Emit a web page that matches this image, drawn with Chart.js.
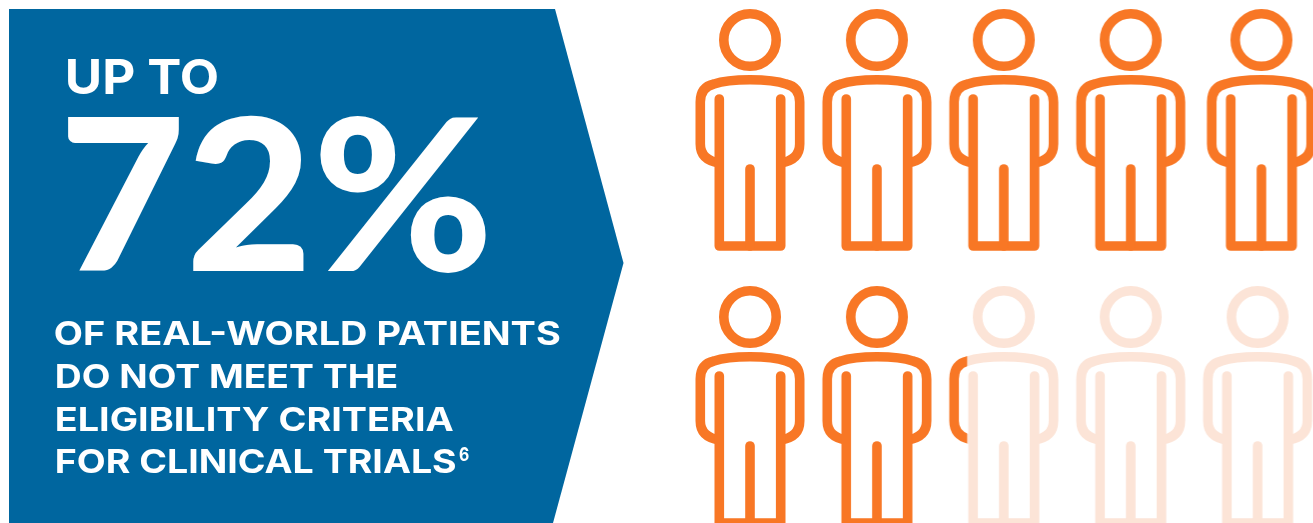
<!DOCTYPE html>
<html>
<head>
<meta charset="utf-8">
<title>Eligibility of real-world patients for clinical trials</title>
<script src="https://cdn.jsdelivr.net/npm/chart.js@4"></script>
<style>
  html, body { margin: 0; padding: 0; background: #fff; overflow: hidden; }
  #wrap { position: relative; width: 1313px; height: 523px; }
</style>
</head>
<body>
<div id="wrap"><canvas id="chart"></canvas></div>
<script>
// Ten patient figures; each share is how much of that figure is coloured in.
const figureCols  = [0, 1, 2, 3, 4.03, 0, 1, 2, 3, 4];
const figureRows  = [0, 0, 0, 0, 0, 1, 1, 1, 1, 1];
const figureShare = [1, 1, 1, 1, 1, 1, 1, 0.2, 0, 0];

const leadLabel = 'UP TO';
const bigLabel = '72%';
const bodyLines = [
  'OF REAL-WORLD PATIENTS',
  'DO NOT MEET THE',
  'ELIGIBILITY CRITERIA',
  'FOR CLINICAL TRIALS'
];
const footnoteMark = '6';

const ORANGE = '#F87725';
const PALE = '#FCE4D7';
const BLUE = '#00669F';
const WHITE = '#FFFFFF';

// Outline of one person, drawn around the horizontal centre of its cell.
function tracePerson(ctx, cx) {
  ctx.lineWidth = 9.6;
  ctx.lineCap = 'round';
  ctx.lineJoin = 'round';
  ctx.beginPath();
  ctx.arc(cx, 35, 26.2, 0, Math.PI * 2);
  ctx.stroke();

  // shoulders, arms and the outside of the legs
  ctx.beginPath();
  ctx.moveTo(cx - 30.7, 158);
  ctx.bezierCurveTo(cx - 43, 156, cx - 49.7, 150, cx - 49.7, 139);
  ctx.lineTo(cx - 49.7, 97);
  ctx.bezierCurveTo(cx - 49.7, 87, cx - 45, 81, cx - 36, 79);
  ctx.bezierCurveTo(cx - 20, 73.3, cx + 20, 73.3, cx + 36, 79);
  ctx.bezierCurveTo(cx + 45, 81, cx + 49.7, 87, cx + 49.7, 97);
  ctx.lineTo(cx + 49.7, 139);
  ctx.bezierCurveTo(cx + 49.7, 150, cx + 43, 156, cx + 30.7, 158);
  ctx.stroke();

  // inner arm lines joined by the feet
  ctx.beginPath();
  ctx.moveTo(cx - 30.7, 94);
  ctx.lineTo(cx - 30.7, 241);
  ctx.lineTo(cx + 30.7, 241);
  ctx.lineTo(cx + 30.7, 94);
  ctx.stroke();

  // split between the legs
  ctx.beginPath();
  ctx.moveTo(cx, 164);
  ctx.lineTo(cx, 241);
  ctx.stroke();
}

// Builds the point image for a figure with the given coloured share.
function personImage(share) {
  const cell = document.createElement('canvas');
  cell.width = 122;
  cell.height = 250;
  const ctx = cell.getContext('2d');
  const cx = cell.width / 2;
  ctx.strokeStyle = PALE;
  tracePerson(ctx, cx);
  if (share > 0) {
    ctx.save();
    ctx.beginPath();
    ctx.rect(0, 0, cell.width * share, cell.height);
    ctx.clip();
    ctx.clearRect(0, 0, cell.width, cell.height);
    ctx.strokeStyle = ORANGE;
    tracePerson(ctx, cx);
    ctx.restore();
  }
  return cell;
}

const figureImages = figureShare.map(personImage);

// Sets a run of text so that it spans from left to right.
function fitText(ctx, text, left, right, baseline, font) {
  ctx.font = font;
  const m = ctx.measureText(text);
  const inkWidth = m.actualBoundingBoxRight + m.actualBoundingBoxLeft;
  const sx = (right - left) / inkWidth;
  ctx.save();
  ctx.translate(left + m.actualBoundingBoxLeft * sx, baseline);
  ctx.scale(sx, 1);
  ctx.fillText(text, 0, 0);
  ctx.restore();
}

// Arrow-shaped panel and its wording, on the same canvas as the figures.
const calloutPanel = {
  id: 'calloutPanel',
  beforeDatasetsDraw(chart) {
    const ctx = chart.ctx;
    ctx.save();
    ctx.fillStyle = BLUE;
    ctx.beginPath();
    ctx.moveTo(9, 9);
    ctx.lineTo(555, 9);
    ctx.lineTo(623.5, 263);
    ctx.lineTo(553, 523);
    ctx.lineTo(9, 523);
    ctx.closePath();
    ctx.fill();

    ctx.fillStyle = WHITE;
    ctx.textBaseline = 'alphabetic';
    ctx.textAlign = 'left';
    const family = 'Inter, "Open Sans", sans-serif';
    fitText(ctx, leadLabel, 68, 217, 94, '700 48px ' + family);
    fitText(ctx, bigLabel, 68, 486, 271, '900 212px Lato, ' + family);

    const bodyFont = '700 33px ' + family;
    const bodyBase = [345, 388, 431, 473];
    const bodyLeft = [55, 57, 57, 57];
    const bodyRight = [560, 397, 453, 456];
    bodyLines.forEach((line, i) => {
      fitText(ctx, line, bodyLeft[i], bodyRight[i], bodyBase[i], bodyFont);
    });
    fitText(ctx, footnoteMark, 459, 469, 461, '700 19px ' + family);
    ctx.restore();
  }
};

new Chart(document.getElementById('chart'), {
  type: 'scatter',
  data: {
    datasets: [{
      label: 'Patients who do not meet eligibility criteria',
      data: figureCols.map((col, i) => ({ x: col, y: figureRows[i] })),
      pointStyle: figureImages,
      pointRadius: 10,
      clip: false
    }]
  },
  options: {
    responsive: true,
    maintainAspectRatio: false,
    animation: false,
    devicePixelRatio: 1,
    events: [],
    layout: { padding: 0, autoPadding: false },
    plugins: { legend: { display: false }, tooltip: { enabled: false }, title: { display: false } },
    scales: {
      x: { type: 'linear', display: false, bounds: 'data', min: -750 / 126.9, max: (1313 - 750) / 126.9 },
      y: { type: 'linear', display: false, bounds: 'data', reverse: true, min: -130 / 277, max: (523 - 130) / 277 }
    }
  },
  plugins: [calloutPanel]
});
</script>
</body>
</html>
